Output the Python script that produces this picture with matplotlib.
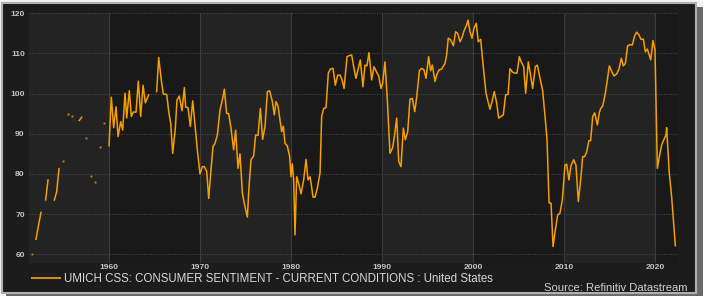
import numpy as np
import matplotlib
matplotlib.use("Agg")
import matplotlib.pyplot as plt
from matplotlib.patches import Rectangle
from matplotlib.lines import Line2D

plt.rcParams['font.family'] = ['Liberation Sans', 'DejaVu Sans']

N = None
# decimal years and index values (None = gap in the survey series)
years = [
    1951.46, 1951.7,
    1951.94, 1952.2, 1952.49, 1952.75,
    1953.0, 1953.26, 1953.6,
    1953.96, 1954.21, 1954.47, 1954.7,
    1954.95, 1955.2, 1955.5, 1955.7, 1955.94, 1956.3,
    1956.7, 1956.96, 1957.2, 1957.44, 1957.7, 1957.99, 1958.2,
    1958.46, 1958.7, 1958.94, 1959.2, 1959.38, 1959.7,
    1959.97, 1960.22, 1960.48, 1960.74, 1960.96, 1961.25, 1961.47, 1961.73,
    1961.91, 1962.2, 1962.42, 1962.64, 1962.94, 1963.19, 1963.45, 1963.71,
    1963.96, 1964.33, 1964.8,
    1965.21, 1965.43, 1965.76, 1965.94, 1966.31, 1966.56, 1966.75, 1966.97,
    1967.26, 1967.44, 1967.7, 1967.99, 1968.25, 1968.4, 1968.65, 1968.91,
    1969.17, 1969.46, 1969.68, 1969.97,
    1970.23, 1970.45, 1970.71, 1970.93, 1971.18, 1971.4, 1971.62, 1971.88,
    1972.17, 1972.43, 1972.65, 1972.9, 1973.12, 1973.38, 1973.67, 1973.89,
    1974.15, 1974.37, 1974.63, 1974.92, 1975.18, 1975.36, 1975.58, 1975.87,
    1976.09, 1976.35, 1976.61, 1976.86, 1977.12, 1977.38, 1977.63, 1977.93,
    1978.14, 1978.33, 1978.55, 1978.77, 1978.95, 1979.13, 1979.32, 1979.57,
    1979.83, 1979.98, 1980.12, 1980.27, 1980.42, 1980.6, 1980.86, 1981.08,
    1981.37, 1981.63, 1981.85, 1982.07, 1982.21, 1982.4, 1982.62, 1982.87,
    1983.17, 1983.35, 1983.57, 1983.83, 1984.08, 1984.3, 1984.6, 1984.85,
    1985.11, 1985.37, 1985.59, 1985.81, 1986.14, 1986.43, 1986.65, 1986.87,
    1987.12, 1987.38, 1987.6, 1987.89, 1988.11, 1988.33, 1988.55, 1988.85,
    1989.1, 1989.4, 1989.62, 1989.87, 1990.05,
    1990.31, 1990.57, 1990.86, 1991.16, 1991.34, 1991.6, 1991.82, 1992.07,
    1992.33, 1992.55, 1992.81, 1993.06, 1993.32, 1993.58, 1993.8, 1994.09,
    1994.35, 1994.6, 1994.82, 1995.11, 1995.33, 1995.52, 1995.81, 1995.99,
    1996.25, 1996.54, 1996.91, 1997.09, 1997.27, 1997.53, 1997.83, 1998.08,
    1998.3, 1998.56, 1998.78, 1999.0, 1999.29, 1999.44, 1999.66, 1999.88,
    2000.1, 2000.35, 2000.57, 2000.83, 2001.12, 2001.42, 2001.64, 2001.86,
    2002.08, 2002.33, 2002.59, 2002.81, 2003.07, 2003.32, 2003.58, 2003.84,
    2004.06, 2004.31, 2004.57, 2004.83, 2005.08, 2005.3, 2005.56, 2005.78,
    2006.07, 2006.26, 2006.55, 2006.84, 2007.06, 2007.36, 2007.65, 2007.91,
    2008.13, 2008.35, 2008.57, 2008.79, 2009.04, 2009.3, 2009.55, 2009.81,
    2010.1, 2010.29, 2010.54, 2010.76, 2011.06, 2011.31, 2011.57, 2011.83,
    2012.05, 2012.27, 2012.49, 2012.74, 2012.93, 2013.15, 2013.37, 2013.66,
    2013.88, 2014.03, 2014.25, 2014.54, 2014.76, 2014.98, 2015.24, 2015.49,
    2015.79, 2016.04, 2016.3, 2016.52, 2016.74, 2016.99, 2017.25, 2017.51,
    2017.76, 2017.98, 2018.24, 2018.46, 2018.72, 2018.94, 2019.16, 2019.31,
    2019.53, 2019.78, 2020.0, 2020.26, 2020.48, 2020.73, 2020.99, 2021.21,
    2021.28, 2021.57, 2021.83, 2022.24,
]
values = [
    60.0, N,
    63.7, 67.0, 70.4, N,
    73.5, 78.5, N,
    73.5, 75.5, 81.3, N,
    83.1, N, 94.9, N, 94.5, N,
    93.3, 94.1, N, 88.9, N, 79.5, N,
    77.9, N, 86.7, N, 92.7, N,
    87.0, 99.1, 91.5, 96.7, 89.3, 93.0, 90.9, 100.1,
    93.9, 100.7, 94.3, 95.4, 95.4, 103.1, 94.3, 102.1,
    97.7, 99.7, N,
    100.5, 109.0, 102.6, 99.9, 99.8, 95.1, 92.6, 85.1,
    91.4, 98.4, 99.4, 95.7, 101.5, 96.6, 96.5, 91.8,
    98.2, 91.4, 86.0, 80.0,
    81.8, 81.8, 80.6, 73.9, 81.0, 86.8, 87.6, 89.7,
    95.9, 98.4, 101.1, 95.1, 95.0, 91.4, 86.0, 90.9,
    81.4, 85.0, 75.2, 71.8, 69.2, 76.8, 83.5, 84.5,
    89.7, 89.6, 96.3, 88.6, 91.8, 100.5, 100.7, 98.0,
    94.7, 98.0, 96.9, 93.4, 90.5, 91.9, 87.6, 87.0,
    84.3, 79.3, 82.5, 78.5, 64.8, 79.3, 77.3, 75.0,
    78.5, 83.6, 78.5, 79.3, 77.3, 74.2, 74.2, 76.4,
    80.2, 94.3, 96.3, 96.5, 105.1, 106.1, 106.3, 102.1,
    104.6, 104.6, 103.4, 101.3, 109.2, 109.5, 109.6, 106.7,
    103.8, 106.3, 108.4, 101.7, 107.1, 106.9, 110.2, 103.4,
    106.7, 105.3, 104.4, 101.3, 102.5,
    107.9, 98.4, 85.1, 86.6, 89.3, 93.9, 83.1, 81.8,
    91.4, 88.5, 90.5, 98.6, 98.8, 95.5, 99.1, 105.7,
    106.3, 105.9, 103.8, 109.2, 105.7, 107.1, 103.0, 104.6,
    105.9, 106.1, 107.5, 109.6, 113.8, 113.4, 111.9, 115.4,
    115.0, 112.9, 114.0, 115.6, 117.1, 118.3, 115.4, 113.8,
    116.3, 117.5, 112.9, 113.5, 106.7, 100.1, 98.0, 96.1,
    98.0, 100.5, 97.7, 93.9, 94.3, 94.7, 99.7, 99.8,
    106.2, 105.4, 105.1, 105.1, 109.2, 107.9, 106.7, 100.1,
    107.9, 105.4, 101.3, 106.7, 107.1, 103.8, 100.7, 94.3,
    88.5, 72.8, 72.7, 61.9, 66.0, 69.8, 70.2, 73.5,
    82.2, 82.4, 78.5, 82.0, 83.5, 82.2, 73.1, 78.5,
    84.3, 84.3, 85.5, 88.3, 88.3, 94.3, 95.2, 92.2,
    95.3, 96.3, 96.9, 100.1, 103.4, 106.9, 105.5, 104.4,
    104.9, 106.1, 108.8, 106.9, 107.5, 111.9, 112.2, 112.1,
    114.4, 115.3, 114.6, 113.5, 113.6, 110.4, 111.1, 110.0,
    108.4, 113.2, 110.9, 81.4, 84.3, 87.2, 88.6, 89.7,
    91.5, 80.2, 74.3, 62.1,
]

y_ticks = [60, 70, 80, 90, 100, 110, 120]
x_ticks = [1960, 1970, 1980, 1990, 2000, 2010, 2020]
series_label = "UMICH CSS: CONSUMER SENTIMENT - CURRENT CONDITIONS : United States"
source_text = "Source: Refinitiv Datastream"

W, H = 703, 296
fig = plt.figure(figsize=(W / 100, H / 100), dpi=100)
fig.patch.set_facecolor('#f2f2f2')
# frame with shadow
fig.add_artist(Rectangle((6 / W, 0), (W - 6) / W, (H - 7) / H, transform=fig.transFigure,
                         facecolor='#6a6a6a', edgecolor='none', zorder=-3))
fig.add_artist(Rectangle((2 / W, 3 / H), 694 / W, 290 / H, transform=fig.transFigure,
                         facecolor='#1c1c1c', edgecolor='#b0b0b0', linewidth=1.5, zorder=-2))

ax = fig.add_axes([29 / W, 1 - 263 / H, (678 - 29) / W, (263 - 13.3) / H])
ax.set_facecolor('#191919')

x0, x1 = 1951.17, 2022.53
ax.set_xlim(x0, x1)
ax.set_ylim(57.8, 120)

# alternating decade bands
edges = [x0] + x_ticks + [x1]
for i in range(0, len(edges) - 1, 2):
    ax.axvspan(edges[i], edges[i + 1], color='#232323', lw=0, zorder=0)

for t in y_ticks:
    ax.axhline(t, color='#4a4a4a', lw=0.7, ls=(0, (1, 1.5)), zorder=1)
for t in x_ticks:
    ax.axvline(t, color='#3c3c3c', lw=0.8, zorder=1)

yr = np.array(years, dtype=float)
vals = np.array([np.nan if v is None else v for v in values], dtype=float)
line, = ax.plot(yr, vals, color='#f59f00', lw=1.1, zorder=3, solid_joinstyle='round')

# isolated observations
iso = []
for i in range(len(vals)):
    if np.isnan(vals[i]):
        continue
    left = i == 0 or np.isnan(vals[i - 1])
    right = i == len(vals) - 1 or np.isnan(vals[i + 1])
    if left and right:
        iso.append(i)
ax.plot(yr[iso], vals[iso], ls='none', marker='s', ms=1.4, color='#c98210', mec='none', zorder=3)

for s in ax.spines.values():
    s.set_visible(False)
ax.set_xticks(x_ticks)
ax.set_yticks(y_ticks)
ax.set_xticklabels([str(t) for t in x_ticks])
ax.set_yticklabels([str(t) for t in y_ticks])
ax.tick_params(axis='both', length=0, colors='#c4c4c4', labelsize=6.1)
ax.tick_params(axis='x', pad=0.6)
ax.tick_params(axis='y', pad=3)
for lab in ax.get_xticklabels() + ax.get_yticklabels():
    lab.set_fontweight('bold')

handle = Line2D([], [], color='#d08a18', lw=1.5)
leg = fig.legend([handle], [series_label], loc='center left',
                 bbox_to_anchor=(32 / W, 1 - 279.2 / H), frameon=False,
                 borderpad=0, borderaxespad=0, handlelength=2.4, handletextpad=0.35,
                 prop={'family': 'Liberation Sans', 'size': 8.3})
for t in leg.get_texts():
    t.set_color('#d8d8d8')

fig.text(687 / W, 1 - 288.3 / H, source_text, ha='right', va='center',
         color='#d0d0d0', fontsize=8.1, family='Liberation Sans')

fig.savefig('out.png', dpi=100, facecolor=fig.get_facecolor())
